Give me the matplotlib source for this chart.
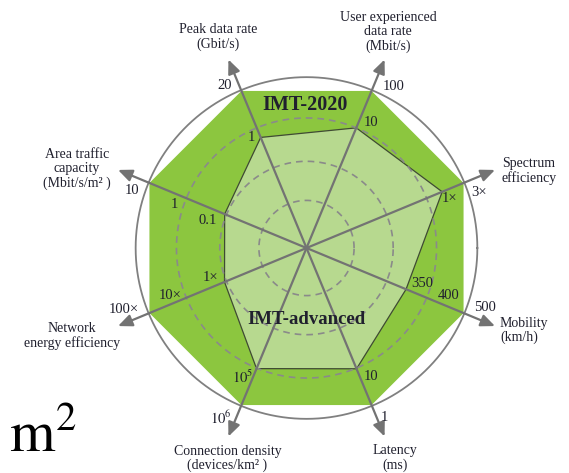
import numpy as np
import matplotlib.pyplot as plt

# ---------------- data ----------------
categories = ["Spectrum\nefficiency",
              "User experienced\ndata rate\n(Mbit/s)",
              "Peak data rate\n(Gbit/s)",
              "Area traffic\ncapacity\n(Mbit/s/m² )",
              "Network\nenergy efficiency",
              "Connection density\n(devices/km² )",
              "Latency\n(ms)",
              "Mobility\n(km/h)"]
angles_deg = [22.5, 67.5, 112.5, 157.5, 202.5, 247.5, 292.5, 337.5]
imt2020_level = [1.0, 1.0, 1.0, 1.0, 1.0, 1.0, 1.0, 1.0]
imt_adv_level = [0.864, 0.765, 0.704, 0.521, 0.522, 0.768, 0.769, 0.634]
imt2020_ticks = ["3×", "100", "20", "10", "100×", "$10^6$", "1", "500"]
imt_adv_ticks = ["1×", "10", "1", "0.1", "1×", "$10^5$", "10", "350"]
mid_tick_axes = [3, 4, 7]
mid_tick_labels = ["1", "10×", "400"]
mid_level = 0.765
grid_levels = [0.28, 0.51, 0.765]

# ---------------- style / positions ----------------
W, H = 569, 473
CX, CY, R = 306.5, 248.0, 170.0
OUTER = '#8cc63f'
INNER = '#b7d98f'
GRAY = '#737373'
TXT = '#20202e'
SERIF = ['Liberation Serif', 'DejaVu Serif']

cat_off = [(7, -1), (3.4, 27.5), (-10.4, 22.5), (-41, 1), (-46, -10), (-1, -22), (10.4, -21.5), (5, -4.5)]
cat_ha = ['left', 'center', 'center', 'center', 'center', 'center', 'center', 'left']
out_off = [(16, -10), (22, 4), (-17, 5), (-17, -8), (-26, 4), (-21, -13), (13, -12), (21, 6)]
in_off = [(7, -7), (15, 5), (-9, 0), (-17, -6.5), (-13.5, 4), (-14, -9), (14.5, -8), (16.5, 6)]
mid_off = [(-12.4, -6.75), (-16.4, 2.25), (22, 2.25)]

plt.rcParams['font.family'] = SERIF
fig = plt.figure(figsize=(W / 100, H / 100), dpi=100)
ax = fig.add_axes([(CX - R) / W, (H - CY - R) / H, 2 * R / W, 2 * R / H], projection='polar')
ax.set_ylim(0, 1)
ax.set_xticks([])
ax.set_yticks([])
ax.grid(False)
ax.patch.set_alpha(0)
ax.spines['polar'].set_visible(False)

th = np.deg2rad(angles_deg)
thc = np.append(th, th[0])

ax.fill(thc, np.append(imt2020_level, imt2020_level[0]), color=OUTER, zorder=1, lw=0)
ax.fill(thc, np.append(imt_adv_level, imt_adv_level[0]), facecolor=INNER,
        edgecolor='#3f4a33', lw=0.9, zorder=2)

circ = np.linspace(0, 2 * np.pi, 721)
ax.plot(circ, np.full_like(circ, 1.005), color='#808080', lw=1.3, zorder=3, clip_on=False)
for g in grid_levels:
    ax.plot(circ, np.full_like(circ, g), ls=(0, (4, 3)), color='#8a8a8a', lw=1.2, zorder=3)

for t in th:
    ax.annotate('', xy=(t, 1.2), xytext=(t, 0), annotation_clip=False,
                arrowprops=dict(arrowstyle='-|>,head_length=0.6,head_width=0.26',
                                color=GRAY, lw=1.6, shrinkA=0, shrinkB=0,
                                mutation_scale=14), zorder=4)

for i, t in enumerate(th):
    ax.annotate(categories[i], xy=(t, 1.2), xytext=cat_off[i], textcoords='offset pixels',
                ha=cat_ha[i], va='center', multialignment=cat_ha[i], fontsize=10,
                linespacing=1.12, color=TXT, annotation_clip=False, zorder=6)
    ax.annotate(imt2020_ticks[i], xy=(t, imt2020_level[i]), xytext=out_off[i],
                textcoords='offset pixels', ha='center', va='center', fontsize=10.5,
                color=TXT, annotation_clip=False, math_fontfamily='stix', zorder=6)
    ax.annotate(imt_adv_ticks[i], xy=(t, imt_adv_level[i]), xytext=in_off[i],
                textcoords='offset pixels', ha='center', va='center', fontsize=10.5,
                color=TXT, annotation_clip=False, math_fontfamily='stix', zorder=6)

for k, i in enumerate(mid_tick_axes):
    ax.annotate(mid_tick_labels[k], xy=(th[i], mid_level), xytext=mid_off[k],
                textcoords='offset pixels', ha='center', va='center', fontsize=10.5,
                color=TXT, annotation_clip=False, zorder=6)

ax.text(np.deg2rad(90.8), 0.84, 'IMT-2020', ha='center', va='center', fontsize=14.5,
        fontweight='bold', color=TXT, zorder=6)
ax.text(np.deg2rad(270), 0.418, 'IMT-advanced', ha='center', va='center', fontsize=13.5,
        fontweight='bold', color=TXT, zorder=6)

fig.text(9 / W, (H - 452) / H, r'$\mathrm{m}^2$', fontsize=42, math_fontfamily='stix',
         ha='left', va='baseline', color='black')

fig.savefig('out.png', dpi=100)
